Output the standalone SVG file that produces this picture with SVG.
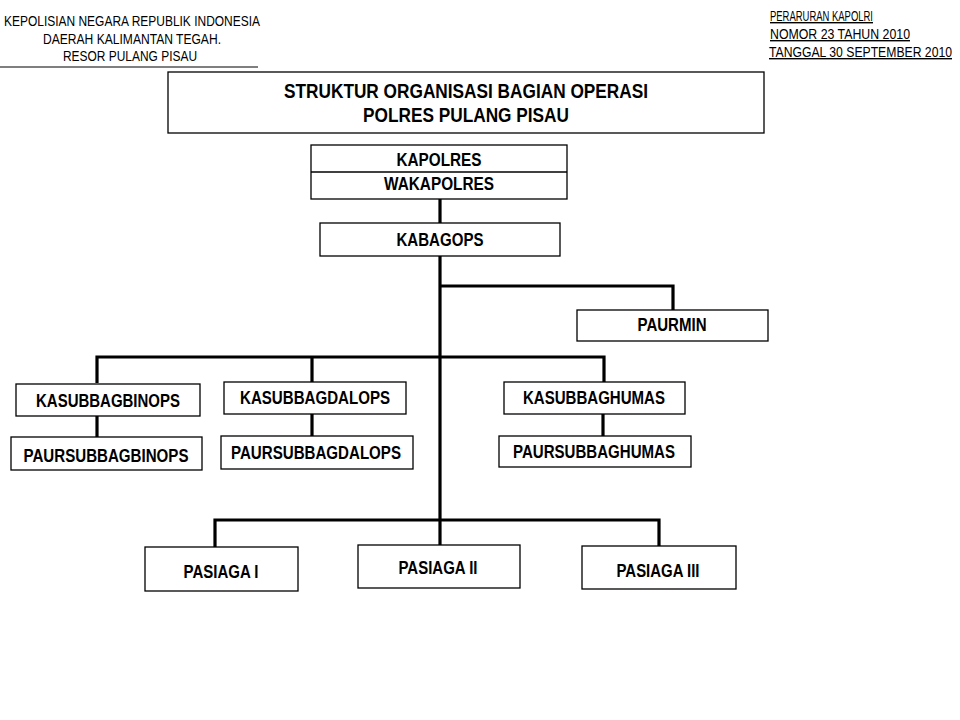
<svg xmlns="http://www.w3.org/2000/svg" width="960" height="720" viewBox="0 0 960 720">
<style>
.hd{font-family:"Liberation Sans",Arial,sans-serif;font-size:14px;fill:#000}
.t{font-family:"Liberation Sans",Arial,sans-serif;font-size:18.5px;font-weight:bold;fill:#000;text-anchor:middle}
.tt{font-family:"Liberation Sans",Arial,sans-serif;font-size:20px;font-weight:bold;fill:#000;text-anchor:middle}
.b{fill:#fff;stroke:#000;stroke-width:1.3}
.c{fill:none;stroke:#000;stroke-width:3.2}
</style>
<rect width="960" height="720" fill="#fff"/>
<g id="header-left">
<text class="hd" x="4" y="26" textLength="256" lengthAdjust="spacingAndGlyphs">KEPOLISIAN NEGARA REPUBLIK INDONESIA</text>
<text class="hd" x="43" y="44" textLength="178" lengthAdjust="spacingAndGlyphs">DAERAH KALIMANTAN TEGAH.</text>
<text class="hd" x="63" y="61" textLength="134" lengthAdjust="spacingAndGlyphs">RESOR PULANG PISAU</text>
<line x1="0" y1="67" x2="258" y2="67" stroke="#000" stroke-width="1.2"/>
</g>
<g id="header-right">
<text class="hd" x="770" y="21" textLength="103" lengthAdjust="spacingAndGlyphs" text-decoration="underline">PERARURAN KAPOLRI</text>
<text class="hd" x="770" y="39" textLength="140" lengthAdjust="spacingAndGlyphs" text-decoration="underline">NOMOR 23 TAHUN 2010</text>
<text class="hd" x="769" y="57" textLength="183" lengthAdjust="spacingAndGlyphs" text-decoration="underline">TANGGAL 30 SEPTEMBER 2010</text>
</g>
<g id="title">
<rect class="b" x="168" y="72" width="596" height="61"/>
<text class="tt" x="466" y="98" textLength="364" lengthAdjust="spacingAndGlyphs">STRUKTUR  ORGANISASI  BAGIAN  OPERASI</text>
<text class="tt" x="466" y="122" textLength="206" lengthAdjust="spacingAndGlyphs">POLRES  PULANG  PISAU</text>
</g>
<g id="connectors">
<line class="c" x1="440" y1="199" x2="440" y2="224"/>
<line class="c" x1="440" y1="256" x2="440" y2="546"/>
<polyline class="c" points="440,286 673,286 673,311"/>
<polyline class="c" points="97,383 97,357 604,357 604,382"/>
<line class="c" x1="312" y1="357" x2="312" y2="383"/>
<line class="c" x1="97" y1="416" x2="97" y2="438"/>
<line class="c" x1="312" y1="414" x2="312" y2="437"/>
<line class="c" x1="603" y1="414" x2="603" y2="436"/>
<polyline class="c" points="215,548 215,520 659,520 659,547"/>
</g>
<g id="kapolres">
<rect class="b" x="311" y="145" width="256" height="54"/>
<line x1="311" y1="172" x2="567" y2="172" stroke="#000" stroke-width="1.3"/>
<text class="t" x="439" y="166" textLength="85" lengthAdjust="spacingAndGlyphs">KAPOLRES</text>
<text class="t" x="439" y="190" textLength="110" lengthAdjust="spacingAndGlyphs">WAKAPOLRES</text>
</g>
<g id="kabagops">
<rect class="b" x="320" y="223" width="240" height="33"/>
<text class="t" x="440" y="246" textLength="87" lengthAdjust="spacingAndGlyphs">KABAGOPS</text>
</g>
<g id="paurmin">
<rect class="b" x="577" y="310" width="191" height="31"/>
<text class="t" x="672" y="331" textLength="69" lengthAdjust="spacingAndGlyphs">PAURMIN</text>
</g>
<g id="kasubbagbinops">
<rect class="b" x="16" y="384" width="184" height="32"/>
<text class="t" x="108" y="407" textLength="144" lengthAdjust="spacingAndGlyphs">KASUBBAGBINOPS</text>
</g>
<g id="paursubbagbinops">
<rect class="b" x="11" y="437" width="191" height="33"/>
<text class="t" x="106" y="462" textLength="165" lengthAdjust="spacingAndGlyphs">PAURSUBBAGBINOPS</text>
</g>
<g id="kasubbagdalops">
<rect class="b" x="224" y="382" width="182" height="32"/>
<text class="t" x="315" y="404" textLength="150" lengthAdjust="spacingAndGlyphs">KASUBBAGDALOPS</text>
</g>
<g id="paursubbagdalops">
<rect class="b" x="221" y="436" width="192" height="33"/>
<text class="t" x="316" y="459" textLength="170" lengthAdjust="spacingAndGlyphs">PAURSUBBAGDALOPS</text>
</g>
<g id="kasubbaghumas">
<rect class="b" x="504" y="382" width="181" height="32"/>
<text class="t" x="594" y="404" textLength="142" lengthAdjust="spacingAndGlyphs">KASUBBAGHUMAS</text>
</g>
<g id="paursubbaghumas">
<rect class="b" x="499" y="436" width="192" height="31"/>
<text class="t" x="594" y="458" textLength="162" lengthAdjust="spacingAndGlyphs">PAURSUBBAGHUMAS</text>
</g>
<g id="pasiaga1">
<rect class="b" x="145" y="547" width="153" height="44"/>
<text class="t" x="221" y="578" textLength="75" lengthAdjust="spacingAndGlyphs">PASIAGA I</text>
</g>
<g id="pasiaga2">
<rect class="b" x="358" y="545" width="162" height="43"/>
<text class="t" x="438" y="574" textLength="79" lengthAdjust="spacingAndGlyphs">PASIAGA II</text>
</g>
<g id="pasiaga3">
<rect class="b" x="582" y="546" width="154" height="43"/>
<text class="t" x="658" y="577" textLength="83" lengthAdjust="spacingAndGlyphs">PASIAGA III</text>
</g>
</svg>
